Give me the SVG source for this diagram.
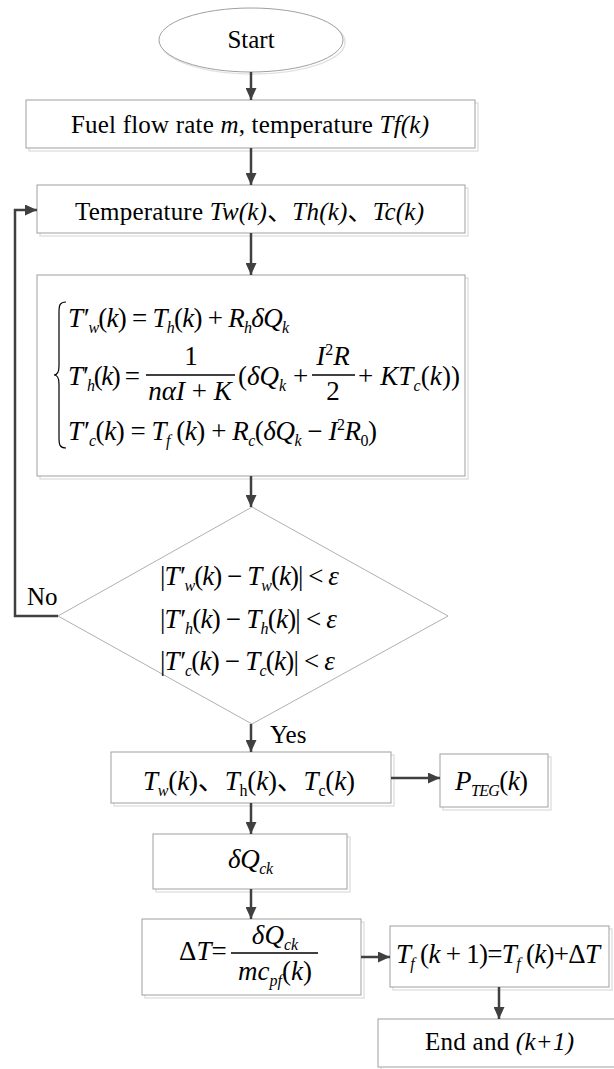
<svg xmlns="http://www.w3.org/2000/svg" width="614" height="1069" viewBox="0 0 614 1069">
<style>
.box{fill:#fff;stroke:#a0a0a0;stroke-width:1}
.sh{fill:none;stroke:#e2e2e2;stroke-width:1.5}
.t{font-family:"Liberation Serif","Noto Sans CJK SC",serif;font-size:25px;fill:#000}
.m{font-family:"Liberation Serif","Noto Sans CJK SC",serif;font-size:27px;fill:#000}
.i{font-style:italic}
.s{font-size:16px}
.con{fill:none;stroke:#404040;stroke-width:2.5}
.bar{stroke:#000;stroke-width:1.3}
</style>
<defs>
<marker id="ah" markerUnits="userSpaceOnUse" markerWidth="12" markerHeight="11" refX="12" refY="5.5" orient="auto">
<path d="M0,0 L12,5.5 L0,11 z" fill="#404040"/>
</marker>
</defs>

<g id="start">
<ellipse cx="253" cy="42" rx="92" ry="32" class="sh"/>
<ellipse cx="251" cy="40" rx="92" ry="32" class="box"/>
<text x="251" y="48" class="t" text-anchor="middle">Start</text>
</g>

<g id="input">
<rect x="29" y="103" width="449" height="48" class="sh"/>
<rect x="26" y="100" width="449" height="48" class="box"/>
<text x="71" y="133" class="t" textLength="358">Fuel flow rate <tspan class="i">m</tspan>, temperature <tspan class="i">Tf(k)</tspan></text>
</g>

<g id="temps">
<rect x="40" y="188" width="428" height="48" class="sh"/>
<rect x="37" y="185" width="428" height="48" class="box"/>
<text x="75" y="220" class="t" textLength="349">Temperature <tspan class="i">Tw(k)</tspan>、<tspan class="i">Th(k)</tspan>、<tspan class="i">Tc(k)</tspan></text>
</g>

<g id="equations">
<rect x="40" y="278" width="428" height="201" class="sh"/>
<rect x="37" y="275" width="428" height="201" class="box"/>
<path d="M66,302 C60,302 59,305 59,312 L59,366 C59,372 57,375 54,375 C57,375 59,378 59,384 L59,438 C59,445 60,448 66,448" fill="none" stroke="#000" stroke-width="1.2"/>
<text x="68" y="327" class="m" textLength="221"><tspan class="i">T</tspan><tspan class="i">′</tspan><tspan class="s i" dx="1" dy="6">w</tspan><tspan dy="-6">(</tspan><tspan class="i">k</tspan>) = <tspan class="i">T</tspan><tspan class="s i" dy="6">h</tspan><tspan dy="-6">(</tspan><tspan class="i">k</tspan>) + <tspan class="i">R</tspan><tspan class="s i" dy="6">h</tspan><tspan class="i" dy="-6">δQ</tspan><tspan class="s i" dy="6">k</tspan></text>
<text x="68" y="385" class="m" textLength="72"><tspan class="i">T</tspan><tspan class="i">′</tspan><tspan class="s i" dx="1" dy="6">h</tspan><tspan dy="-6">(</tspan><tspan class="i">k</tspan>) =</text>
<text x="191" y="365" class="m" text-anchor="middle">1</text>
<line x1="146" y1="375" x2="235" y2="375" class="bar"/>
<text x="190" y="400" class="m" text-anchor="middle"><tspan class="i">nαI</tspan> + <tspan class="i">K</tspan></text>
<text x="238" y="385" class="m">(<tspan class="i">δQ</tspan><tspan class="s i" dy="6">k</tspan><tspan dy="-6"> +</tspan></text>
<text x="333" y="365" class="m" text-anchor="middle"><tspan class="i">I</tspan><tspan class="s" dy="-10">2</tspan><tspan class="i" dy="10">R</tspan></text>
<line x1="312" y1="375" x2="355" y2="375" class="bar"/>
<text x="333" y="400" class="m" text-anchor="middle">2</text>
<text x="358" y="385" class="m" textLength="102">+ <tspan class="i">KT</tspan><tspan class="s i" dy="6">c</tspan><tspan dy="-6">(</tspan><tspan class="i">k</tspan>))</text>
<text x="68" y="440" class="m" textLength="309"><tspan class="i">T</tspan><tspan class="i">′</tspan><tspan class="s i" dx="1" dy="6">c</tspan><tspan dy="-6">(</tspan><tspan class="i">k</tspan>) = <tspan class="i">T</tspan><tspan class="s i" dy="6">f</tspan><tspan dy="-6"> (</tspan><tspan class="i">k</tspan>) + <tspan class="i">R</tspan><tspan class="s i" dy="6">c</tspan><tspan dy="-6">(</tspan><tspan class="i">δQ</tspan><tspan class="s i" dy="6">k</tspan><tspan dy="-6"> − </tspan><tspan class="i">I</tspan><tspan class="s" dy="-10">2</tspan><tspan class="i" dy="10">R</tspan><tspan class="s" dy="6">0</tspan><tspan dy="-6">)</tspan></text>
</g>

<g id="check">
<polygon points="252,507 448,616 252,724 58,616" fill="#fff" stroke="#b0b0b0" stroke-width="1"/>
<text x="160" y="585" class="m" textLength="179">|<tspan class="i">T</tspan><tspan class="i">′</tspan><tspan class="s i" dx="1" dy="6">w</tspan><tspan dy="-6">(</tspan><tspan class="i">k</tspan>) − <tspan class="i">T</tspan><tspan class="s i" dy="6">w</tspan><tspan dy="-6">(</tspan><tspan class="i">k</tspan>)| &lt; <tspan class="i">ε</tspan></text>
<text x="160" y="628" class="m" textLength="177">|<tspan class="i">T</tspan><tspan class="i">′</tspan><tspan class="s i" dx="1" dy="6">h</tspan><tspan dy="-6">(</tspan><tspan class="i">k</tspan>) − <tspan class="i">T</tspan><tspan class="s i" dy="6">h</tspan><tspan dy="-6">(</tspan><tspan class="i">k</tspan>)| &lt; <tspan class="i">ε</tspan></text>
<text x="160" y="670" class="m" textLength="175">|<tspan class="i">T</tspan><tspan class="i">′</tspan><tspan class="s i" dx="1" dy="6">c</tspan><tspan dy="-6">(</tspan><tspan class="i">k</tspan>) − <tspan class="i">T</tspan><tspan class="s i" dy="6">c</tspan><tspan dy="-6">(</tspan><tspan class="i">k</tspan>)| &lt; <tspan class="i">ε</tspan></text>
</g>

<g id="result">
<rect x="114" y="755" width="280" height="51" class="sh"/>
<rect x="111" y="752" width="280" height="51" class="box"/>
<text x="143" y="790" class="m" textLength="212"><tspan class="i">T</tspan><tspan class="s i" dy="6">w</tspan><tspan dy="-6">(</tspan><tspan class="i">k</tspan>)、<tspan class="i">T</tspan><tspan class="s" dy="6">h</tspan><tspan dy="-6">(</tspan><tspan class="i">k</tspan>)、<tspan class="i">T</tspan><tspan class="s" dy="6">c</tspan><tspan dy="-6">(</tspan><tspan class="i">k</tspan>)</text>
</g>

<g id="pteg">
<rect x="443" y="757" width="108" height="53" class="sh"/>
<rect x="440" y="754" width="108" height="53" class="box"/>
<text x="455" y="790" class="m" textLength="73"><tspan class="i">P</tspan><tspan class="s i" dy="6">TEG</tspan><tspan dy="-6">(</tspan><tspan class="i">k</tspan>)</text>
</g>

<g id="dq">
<rect x="156" y="837" width="194" height="55" class="sh"/>
<rect x="153" y="834" width="194" height="55" class="box"/>
<text x="228" y="868" class="m" textLength="45"><tspan class="i">δQ</tspan><tspan class="s i" dy="6">ck</tspan></text>
</g>

<g id="deltat">
<rect x="145" y="922" width="219" height="76" class="sh"/>
<rect x="142" y="919" width="219" height="76" class="box"/>
<text x="179" y="960" class="m">Δ<tspan class="i">T</tspan>=</text>
<text x="275" y="944" class="m" text-anchor="middle"><tspan class="i">δQ</tspan><tspan class="s i" dy="6">ck</tspan></text>
<line x1="231" y1="953" x2="318" y2="953" class="bar"/>
<text x="275" y="980" class="m" text-anchor="middle"><tspan class="i">mc</tspan><tspan class="s i" dy="6">pf</tspan><tspan dy="-6">(</tspan><tspan class="i">k</tspan>)</text>
</g>

<g id="update">
<rect x="393" y="929" width="219" height="61" class="sh"/>
<rect x="390" y="926" width="219" height="61" class="box"/>
<text x="396" y="963" class="m" textLength="204"><tspan class="i">T</tspan><tspan class="s i" dy="6">f</tspan><tspan dy="-6"> (</tspan><tspan class="i">k</tspan> + 1)=<tspan class="i">T</tspan><tspan class="s i" dy="6">f</tspan><tspan dy="-6"> (</tspan><tspan class="i">k</tspan>)+Δ<tspan class="i">T</tspan></text>
</g>

<g id="end">
<rect x="381" y="1022" width="240" height="48" class="sh"/>
<rect x="378" y="1019" width="240" height="48" class="box"/>
<text x="425" y="1050" class="t" textLength="149">End and <tspan class="i">(k+1)</tspan></text>
</g>

<g id="connectors">
<line x1="251" y1="72" x2="251" y2="100" class="con" marker-end="url(#ah)"/>
<line x1="251" y1="148" x2="251" y2="185" class="con" marker-end="url(#ah)"/>
<line x1="251" y1="233" x2="251" y2="275" class="con" marker-end="url(#ah)"/>
<line x1="251" y1="476" x2="251" y2="507" class="con" marker-end="url(#ah)"/>
<line x1="251" y1="724" x2="251" y2="752" class="con" marker-end="url(#ah)"/>
<line x1="391" y1="778" x2="440" y2="778" class="con" marker-end="url(#ah)"/>
<line x1="251" y1="803" x2="251" y2="834" class="con" marker-end="url(#ah)"/>
<line x1="251" y1="889" x2="251" y2="919" class="con" marker-end="url(#ah)"/>
<line x1="361" y1="957" x2="390" y2="957" class="con" marker-end="url(#ah)"/>
<line x1="499" y1="987" x2="499" y2="1019" class="con" marker-end="url(#ah)"/>
<polyline points="58,616 15,616 15,210 37,210" class="con" marker-end="url(#ah)"/>
<text x="27" y="605" class="t">No</text>
<text x="270" y="743" class="t">Yes</text>
</g>
</svg>
